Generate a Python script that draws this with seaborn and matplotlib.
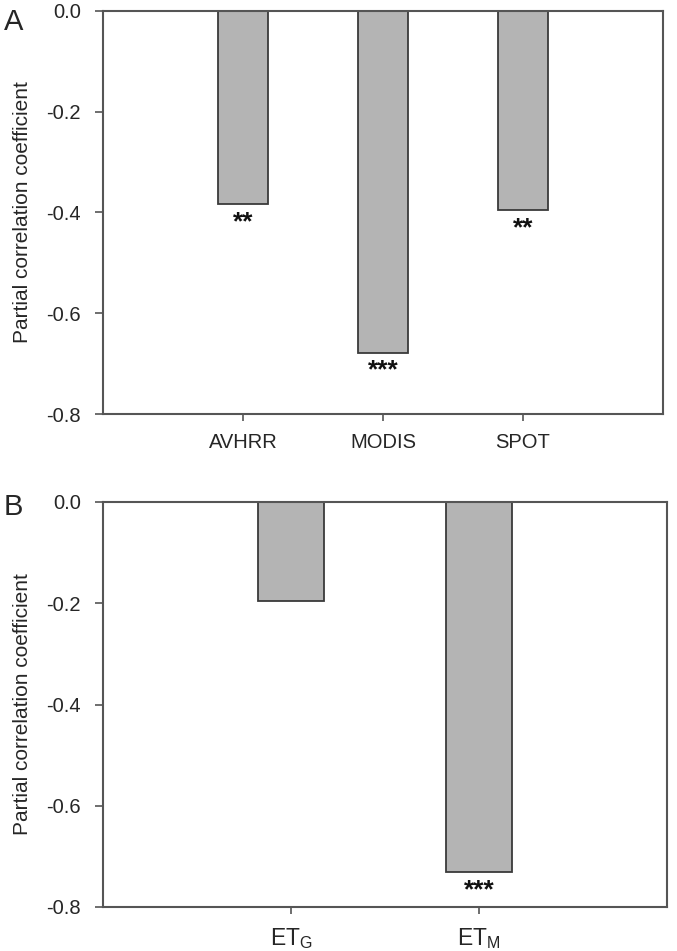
import matplotlib
matplotlib.use("Agg")
import matplotlib.pyplot as plt
import seaborn as sns
import pandas as pd

# ---- data ----
top_categories = ["AVHRR", "MODIS", "SPOT"]
top_values = [-0.383, -0.678, -0.395]
top_sig = ["**", "***", "**"]

bottom_categories = [r"ET$_\mathrm{G}$", r"ET$_\mathrm{M}$"]
bottom_values = [-0.196, -0.731]
bottom_sig = ["", "***"]

y_ticks = [0.0, -0.2, -0.4, -0.6, -0.8]
y_label = "Partial correlation coefficient"
panel_labels = ["A", "B"]

sns.set_style("white")
plt.rcParams["font.family"] = ["Liberation Sans", "DejaVu Sans"]
plt.rcParams["mathtext.fontset"] = "custom"
plt.rcParams["mathtext.rm"] = "Liberation Sans"
plt.rcParams["mathtext.it"] = "Liberation Sans:italic"

W, H = 677, 951
fig = plt.figure(figsize=(W / 100, H / 100), dpi=100)

ax1 = fig.add_axes([103 / W, 1 - 414 / H, (663 - 103) / W, (414 - 11) / H])
ax2 = fig.add_axes([103 / W, 1 - 907 / H, (667 - 103) / W, (907 - 502) / H])

bar_color = "#b4b4b4"
edge_color = "#3a3a3a"
spine_color = "#555555"

panels = [
    (ax1, top_categories, top_values, top_sig, 0.36, 14.5),
    (ax2, bottom_categories, bottom_values, bottom_sig, 0.35, 16.5),
]

for ax, cats, vals, sig, w, xls in panels:
    df = pd.DataFrame({"cat": cats, "val": vals})
    sns.barplot(data=df, x="cat", y="val", ax=ax, color=bar_color, saturation=1,
                width=w, edgecolor=edge_color, linewidth=1.3, errorbar=None)
    ax.set_xlim(-1, len(cats))
    ax.set_ylim(-0.8, 0.0)
    ax.set_yticks(y_ticks)
    ax.set_yticklabels([f"{t:.1f}" for t in y_ticks])
    ax.set_xlabel("")
    ax.set_ylabel(y_label, fontsize=15, labelpad=10)
    for s in ax.spines.values():
        s.set_visible(True)
        s.set_color(spine_color)
        s.set_linewidth(1.5)
    ax.tick_params(axis="y", which="both", left=True, direction="out", length=6,
                   width=1.2, color=spine_color, labelsize=14.5, pad=10)
    ax.tick_params(axis="x", which="both", bottom=True, direction="out", length=5,
                   width=1.2, color=spine_color, labelsize=xls, pad=9)
    for i, (v, s) in enumerate(zip(vals, sig)):
        if s:
            ax.text(i, v - 0.012, s, ha="center", va="top", fontsize=19,
                    fontweight="bold", color="#111111")

fig.text(4 / W, 1 - 8 / H, panel_labels[0], fontsize=21, ha="left", va="top")
fig.text(4 / W, 1 - 493 / H, panel_labels[1], fontsize=21, ha="left", va="top")

fig.savefig("out.png", dpi=100, facecolor="white")
